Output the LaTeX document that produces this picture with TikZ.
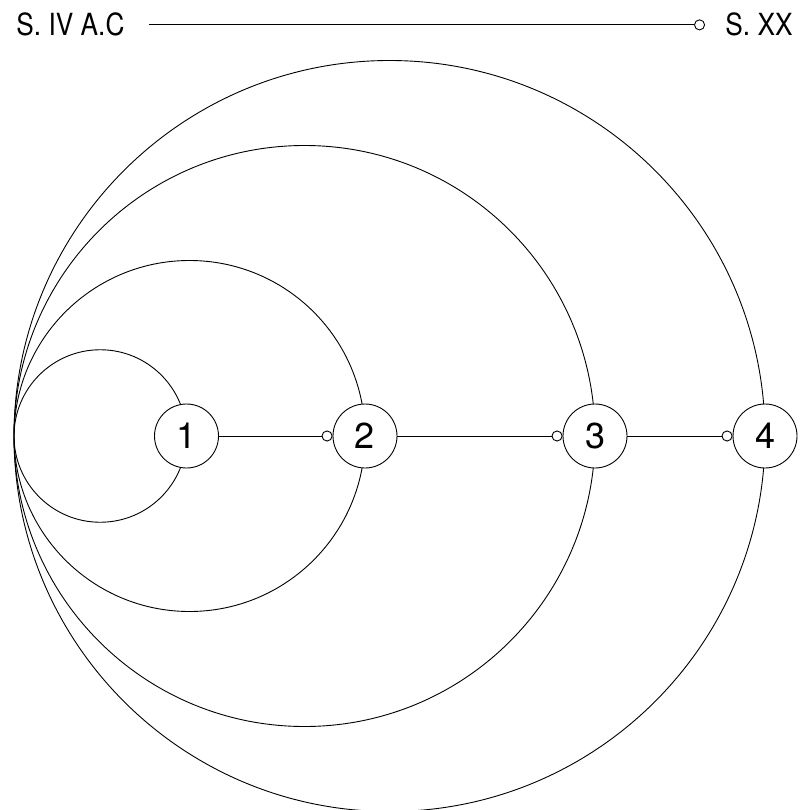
\documentclass[tikz,border=0pt]{standalone}
\usepackage{fontspec}
\setmainfont{TeX Gyre Heros}
\usepackage{tikz}
\usetikzlibrary{calc, positioning, arrows.meta}

\newcommand{\narrow}[1]{\scalebox{0.86}[1]{#1}}

\tikzset{
  era/.style={inner sep=0pt, font=\fontsize{30.5}{36}\selectfont},
  stage/.style={draw, circle, fill=white, minimum size=64pt, inner sep=0pt, font=\fontsize{36}{42}\selectfont},
  link/.style={-{Circle[open, length=11pt]}},
}

\begin{document}
\begin{tikzpicture}[x=1pt, y=-1pt, line width=0.9pt]
  \useasboundingbox (0,0) rectangle (802,810);

  % Timeline on top
  \node[era, anchor=base west] (early) at (16,36) {\narrow{S. IV A.C}};
  \node[era, anchor=base east] (late) at (793,36) {\narrow{S. XX}};
  \draw[link, shorten <=24pt, shorten >=20pt] (early.east) -- (late.west);

  % Nested circles, all touching at the left
  \coordinate (touch) at (14,436);
  \foreach \x in {186.5, 365, 595, 765} {
    \pgfmathsetmacro{\r}{(\x-14)/2}
    \draw ($(touch)+(\r,0)$) circle[radius=\r pt];
  }

  % Stages on the axis
  \foreach \i/\x in {1/186.5, 2/365, 3/595, 4/765}
    \node[stage] (s\i) at (\x,436) {\i};

  \draw[link] (s1) -- (s2);
  \draw[link] (s2) -- (s3);
  \draw[link] (s3) -- (s4);
\end{tikzpicture}
\end{document}
